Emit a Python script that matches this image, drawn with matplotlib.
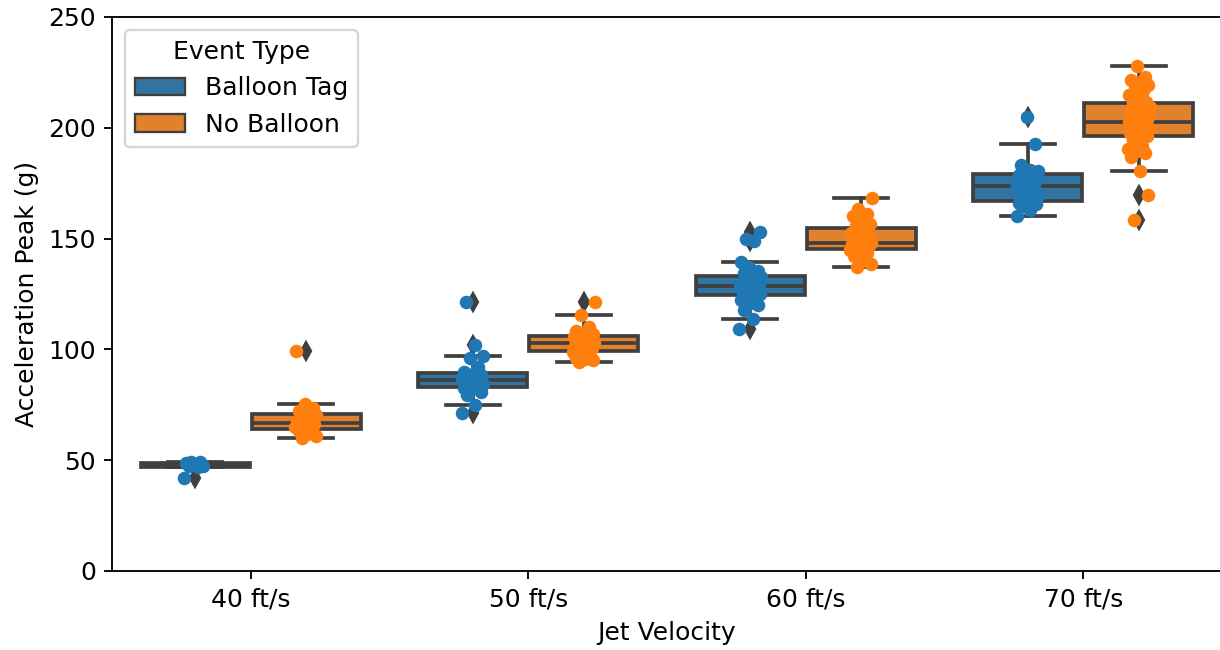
import numpy as np
import matplotlib.pyplot as plt
from matplotlib.patches import Patch

plt.rcParams['font.size'] = 10.8

# カテゴリ
velocities = ['40 ft/s', '50 ft/s', '60 ft/s', '70 ft/s']
event_types = ['Balloon Tag', 'No Balloon']

# 加速度ピーク (g)
tag_40 = [42.0, 46.8, 47.2, 47.5, 48.0, 48.6, 49.0, 49.3]
tag_50 = [71.5, 75.0, 79.5, 81.0, 82.0, 82.5, 83.0, 84.0, 84.5, 85.0, 85.5, 86.0,
          86.5, 87.0, 87.5, 88.0, 88.5, 89.0, 90.0, 92.0, 96.0, 97.0, 102.0, 121.5]
tag_60 = [109.0, 113.5, 118.0, 120.0, 121.0, 122.5, 123.5, 124.5, 125.0, 125.5,
          126.0, 126.5, 127.0, 128.0, 128.5, 129.0, 129.5, 130.0, 130.5, 131.0,
          132.0, 132.5, 133.5, 134.5, 135.5, 137.0, 139.5, 149.0, 150.0, 153.0]
tag_70 = [160.0, 163.0, 164.5, 165.5, 166.0, 166.0, 166.5, 167.5, 169.0, 170.5,
          171.5, 172.5, 173.5, 174.0, 175.0, 176.0, 176.5, 177.5, 178.5, 179.5,
          180.0, 180.5, 181.0, 183.0, 192.5, 205.0]

nob_40 = [60.0, 61.0, 62.0, 63.0, 63.5, 64.5, 65.0, 65.5, 66.0, 66.5, 67.0, 67.5,
          68.0, 69.0, 70.5, 71.0, 72.0, 73.5, 75.5, 99.5]
nob_50 = [94.5, 95.0, 95.5, 96.0, 97.0, 98.0, 99.0, 99.5, 100.0, 100.5, 101.0,
          101.5, 102.0, 102.5, 103.0, 103.5, 104.0, 104.5, 105.0, 105.5, 106.0,
          106.5, 107.0, 107.5, 108.5, 110.0, 115.5, 121.5]
nob_60 = [137.0, 138.5, 140.0, 142.0, 143.5, 144.5, 145.0, 145.5, 146.5, 147.0,
          147.0, 147.5, 147.5, 148.0, 148.0, 148.5, 149.5, 150.5, 151.5, 152.5,
          154.5, 155.5, 156.5, 158.0, 160.0, 161.0, 163.5, 168.5]
nob_70 = [158.5, 169.5, 180.5, 187.0, 188.5, 189.5, 190.5, 192.0, 194.5, 196.5,
          196.5, 197.5, 198.0, 199.0, 200.0, 200.5, 201.0, 201.5, 202.0, 202.5,
          203.0, 204.0, 205.0, 206.0, 207.0, 207.5, 208.5, 209.5, 210.5, 211.0,
          211.5, 213.5, 215.0, 216.5, 218.0, 219.5, 220.5, 221.5, 223.0, 228.0]

groups = [[tag_40, tag_50, tag_60, tag_70],
          [nob_40, nob_50, nob_60, nob_70]]

box_colors = ['#3274a1', '#e1812c']
dot_colors = ['#1f77b4', '#ff7f0e']
gray = '#3f3f3f'

fig = plt.figure(figsize=(1220 / 167, 650 / 167), dpi=167)
ax = fig.add_axes([112 / 1220, 79 / 650, 1110 / 1220, 554 / 650])

x = np.arange(len(velocities))
for h, (series, bc, dc) in enumerate(zip(groups, box_colors, dot_colors)):
    pos = x - 0.2 + 0.4 * h
    ax.boxplot(series, positions=pos, widths=0.4 * 0.98, patch_artist=True,
               manage_ticks=False,
               boxprops=dict(facecolor=bc, edgecolor=gray, linewidth=1.6),
               medianprops=dict(color=gray, linewidth=1.6),
               whiskerprops=dict(color=gray, linewidth=1.6),
               capprops=dict(color=gray, linewidth=1.6),
               flierprops=dict(marker='d', markerfacecolor=gray, markeredgecolor=gray,
                               markersize=5.5))
    # ストリッププロット (ジッターは固定パターン)
    for p, vals in zip(pos, series):
        n = len(vals)
        jit = (((np.arange(n) * 0.618 + 0.3 * h) % 1.0) - 0.5) * 0.08
        ax.scatter(p + jit, vals, s=34, color=dc, linewidths=0, zorder=3)

ax.set_xlim(-0.5, 3.5)
ax.set_ylim(0, 250)
ax.set_xticks(x)
ax.set_xticklabels(velocities)
ax.set_yticks([0, 50, 100, 150, 200, 250])
ax.set_xlabel('Jet Velocity')
ax.set_ylabel('Acceleration Peak (g)')

handles = [Patch(facecolor=c, edgecolor=gray, linewidth=1.0, label=l)
           for c, l in zip(box_colors, event_types)]
ax.legend(handles=handles, title='Event Type', loc='upper left')

plt.savefig('out.png', dpi=167)
